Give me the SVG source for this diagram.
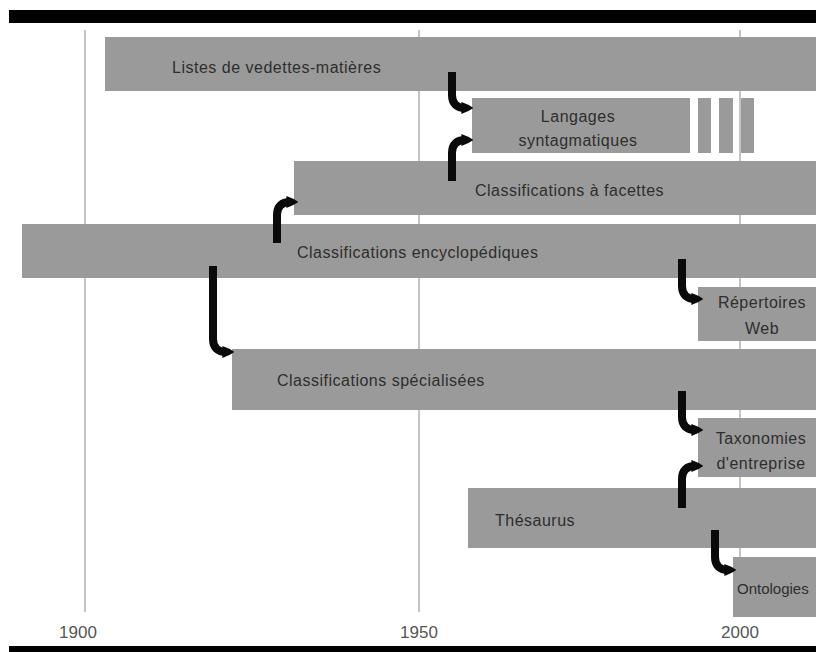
<svg xmlns="http://www.w3.org/2000/svg" width="816" height="652" viewBox="0 0 816 652">
<style>
.bar{fill:#9a9a9a}
.grid{stroke:#c4c4c4;stroke-width:2}
.lbl{font-family:"Liberation Sans",Arial,sans-serif;font-size:16px;fill:#2e2e2e;letter-spacing:0.5px}
.yr{font-family:"Liberation Sans",Arial,sans-serif;font-size:17px;fill:#555;text-anchor:middle}
.arr{fill:none;stroke:#0a0a0a;stroke-width:8;stroke-linecap:butt;marker-end:url(#ah)}
</style>
<defs>
<marker id="ah" viewBox="0 0 10 10" refX="3" refY="5" markerUnits="userSpaceOnUse" markerWidth="12" markerHeight="16" orient="auto">
<path d="M0,0 Q6,2 10,5 Q6,8 0,10 Z" fill="#0a0a0a"/>
</marker>
</defs>
<rect width="816" height="652" fill="#fff"/>
<rect x="9" y="10" width="807" height="13" fill="#000"/>
<rect x="9" y="646" width="807" height="6" fill="#000"/>
<g id="grid">
<line class="grid" x1="85" y1="30" x2="85" y2="612"/>
<line class="grid" x1="419" y1="30" x2="419" y2="612"/>
<line class="grid" x1="740" y1="30" x2="740" y2="612"/>
</g>
<g id="listes"><rect class="bar" x="105" y="37" width="711" height="54"/><text class="lbl" x="172" y="73">Listes de vedettes-matières</text></g>
<g id="langages"><rect class="bar" x="472" y="98" width="218" height="55"/><rect class="bar" x="698" y="98" width="13" height="55"/><rect class="bar" x="719" y="98" width="14" height="55"/><rect class="bar" x="741" y="98" width="13" height="55"/><text class="lbl" x="578" y="122" text-anchor="middle">Langages</text><text class="lbl" x="578" y="146" text-anchor="middle">syntagmatiques</text></g>
<g id="facettes"><rect class="bar" x="294" y="161" width="522" height="54"/><text class="lbl" x="475" y="196">Classifications à facettes</text></g>
<g id="encyclo"><rect class="bar" x="22" y="224" width="794" height="54"/><text class="lbl" x="297" y="258">Classifications encyclopédiques</text></g>
<g id="repertoires"><rect class="bar" x="698" y="287" width="118" height="54"/><text class="lbl" x="762" y="308" text-anchor="middle">Répertoires</text><text class="lbl" x="762" y="334" text-anchor="middle">Web</text></g>
<g id="specialisees"><rect class="bar" x="232" y="349" width="584" height="61"/><text class="lbl" x="277" y="386">Classifications spécialisées</text></g>
<g id="taxonomies"><rect class="bar" x="698" y="418" width="118" height="59"/><text class="lbl" x="761" y="444" text-anchor="middle">Taxonomies</text><text class="lbl" x="761" y="469" text-anchor="middle">d'entreprise</text></g>
<g id="thesaurus"><rect class="bar" x="468" y="488" width="348" height="60"/><text class="lbl" x="495" y="526">Thésaurus</text></g>
<g id="ontologies"><rect class="bar" x="733" y="557" width="83" height="60"/><text class="lbl" x="737" y="594" style="font-size:15px;letter-spacing:0">Ontologies</text></g>
<g id="axis">
<text class="yr" x="78" y="638">1900</text>
<text class="yr" x="419" y="638">1950</text>
<text class="yr" x="740" y="638">2000</text>
</g>
<g id="connectors">
<path class="arr" d="M452,72 V95 C452,104 457,108 465,108"/>
<path class="arr" d="M452,181 V153 C452,144 457,140 465,140"/>
<path class="arr" d="M277,243 V215 C277,206 282,202 290,202"/>
<path class="arr" d="M213,266 V339 C213,348 218,352 226,352"/>
<path class="arr" d="M682,259 V286 C682,295 687,299 695,299"/>
<path class="arr" d="M682,391 V417 C682,426 687,430 695,430"/>
<path class="arr" d="M682,508 V479 C682,470 687,466 695,466"/>
<path class="arr" d="M715,530 V557 C715,566 720,570 728,570"/>
</g>
</svg>
